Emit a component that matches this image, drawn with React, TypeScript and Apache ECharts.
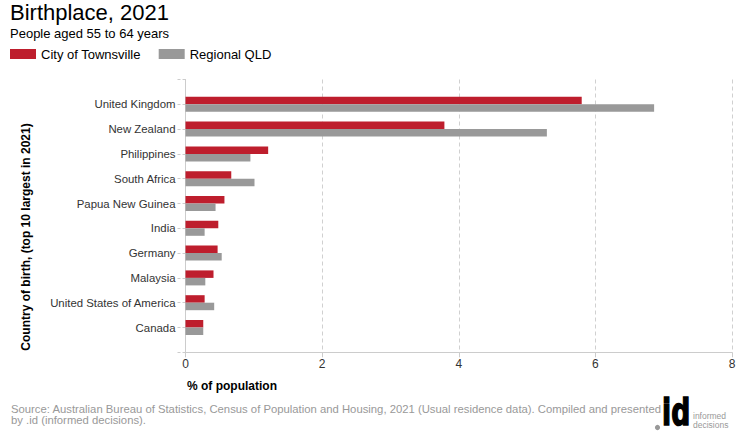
import React, { useEffect, useRef } from "react";
import * as echarts from "echarts";

const countries = [
  "United Kingdom",
  "New Zealand",
  "Philippines",
  "South Africa",
  "Papua New Guinea",
  "India",
  "Germany",
  "Malaysia",
  "United States of America",
  "Canada",
];
const townsville = [5.8, 3.79, 1.21, 0.67, 0.57, 0.48, 0.47, 0.41, 0.28, 0.26];
const regionalQld = [6.86, 5.29, 0.95, 1.01, 0.44, 0.28, 0.53, 0.29, 0.42, 0.26];
const seriesNames = ["City of Townsville", "Regional QLD"];
const seriesColors = ["#be1e2d", "#999999"];
const xTicks = { min: 0, max: 8, interval: 2 };

const FONT = "'Liberation Sans', Arial, sans-serif";

export default function App() {
  const ref = useRef<HTMLDivElement>(null);
  useEffect(() => {
    if (!ref.current) return;
    const chart = echarts.init(ref.current, null, { renderer: "svg" });
    // pad with an empty slot at each end so the plot extends a full band above and below
    const yCats = ["", ...countries, ""];
    const pad = (arr: number[]) => ["-", ...arr, "-"];
    chart.setOption({
      animation: false,
      backgroundColor: "#ffffff",
      textStyle: { fontFamily: FONT },
      legend: {
        left: 10,
        top: 47.5,
        padding: 0,
        itemWidth: 26,
        itemHeight: 10,
        itemGap: 18,
        icon: "rect",
        textStyle: { fontSize: 13, color: "#000", fontFamily: FONT },
        data: seriesNames,
      },
      grid: {
        left: 185.5,
        right: 8,
        top: 79.5,
        bottom: 87.7,
        containLabel: false,
        outerBoundsMode: "none",
      },
      xAxis: {
        type: "value",
        min: xTicks.min,
        max: xTicks.max,
        interval: xTicks.interval,
        axisLine: { show: true, lineStyle: { color: "#cccccc", width: 1 } },
        axisTick: { show: true, length: 5, lineStyle: { color: "#cccccc" } },
        axisLabel: { fontSize: 12, color: "#333", margin: 6, fontFamily: FONT },
        splitLine: {
          show: true,
          lineStyle: { color: "#d0d0d0", type: [4, 3], width: 1 },
        },
      },
      yAxis: {
        type: "category",
        inverse: true,
        boundaryGap: false,
        data: yCats,
        axisLine: { show: true, lineStyle: { color: "#cccccc", width: 1 } },
        axisTick: {
          show: true,
          interval: 0,
          length: 8,
          lineStyle: { color: "#cccccc", type: [3, 2] },
        },
        axisLabel: {
          interval: 0,
          fontSize: 11.4,
          color: "#333",
          margin: 10,
          fontFamily: FONT,
        },
        splitLine: { show: false },
      },
      series: [
        {
          name: seriesNames[0],
          type: "bar",
          data: pad(townsville),
          barWidth: 7.5,
          barGap: "0%",
          itemStyle: { color: seriesColors[0] },
        },
        {
          name: seriesNames[1],
          type: "bar",
          data: pad(regionalQld),
          barWidth: 7.5,
          barGap: "0%",
          itemStyle: { color: seriesColors[1] },
        },
      ],
      graphic: [
        {
          type: "text",
          left: 10,
          top: 1,
          style: { text: "Birthplace, 2021", fontSize: 22, fill: "#000", fontFamily: FONT },
        },
        {
          type: "text",
          x: 10,
          y: 33.8,
          style: {
            text: "People aged 55 to 64 years",
            fontSize: 13,
            fill: "#000",
            fontFamily: FONT,
            verticalAlign: "middle",
          },
        },
        {
          type: "text",
          x: 26,
          y: 237,
          rotation: Math.PI / 2,
          style: {
            text: "Country of birth, (top 10 largest in 2021)",
            fontSize: 12,
            fontWeight: "bold",
            fill: "#000",
            fontFamily: FONT,
            align: "center",
            verticalAlign: "middle",
          },
        },
        {
          type: "text",
          x: 187,
          y: 386.3,
          style: {
            text: "% of population",
            fontSize: 12,
            fontWeight: "bold",
            fill: "#000",
            fontFamily: FONT,
            verticalAlign: "middle",
          },
        },
        {
          type: "text",
          x: 11,
          y: 403,
          style: {
            text:
              "Source: Australian Bureau of Statistics, Census of Population and Housing, 2021 (Usual residence data). Compiled and presented\nby .id (informed decisions).",
            fontSize: 11.3,
            lineHeight: 11.5,
            fill: "#999",
            fontFamily: FONT,
            verticalAlign: "top",
          },
        },
        {
          type: "circle",
          shape: { cx: 657.5, cy: 427.5, r: 2.6 },
          style: { fill: "#999" },
        },
        {
          type: "text",
          x: 662,
          y: 431,
          scaleX: 0.72,
          style: {
            text: "id",
            fontSize: 37,
            fontWeight: 900,
            fill: "#000",
            stroke: "#000",
            lineWidth: 1.5,
            fontFamily: "'DejaVu Sans', 'Liberation Sans', sans-serif",
            verticalAlign: "bottom",
          },
        },
        {
          type: "text",
          x: 693,
          y: 411,
          style: {
            text: "informed\ndecisions",
            fontSize: 8.5,
            lineHeight: 9.5,
            fill: "#999",
            fontFamily: FONT,
            verticalAlign: "top",
          },
        },
      ],
    });
    return () => chart.dispose();
  }, []);
  return (
    <div
      ref={ref}
      style={{ position: "fixed", left: 0, top: 0, width: 740, height: 440, background: "#fff" }}
    />
  );
}
